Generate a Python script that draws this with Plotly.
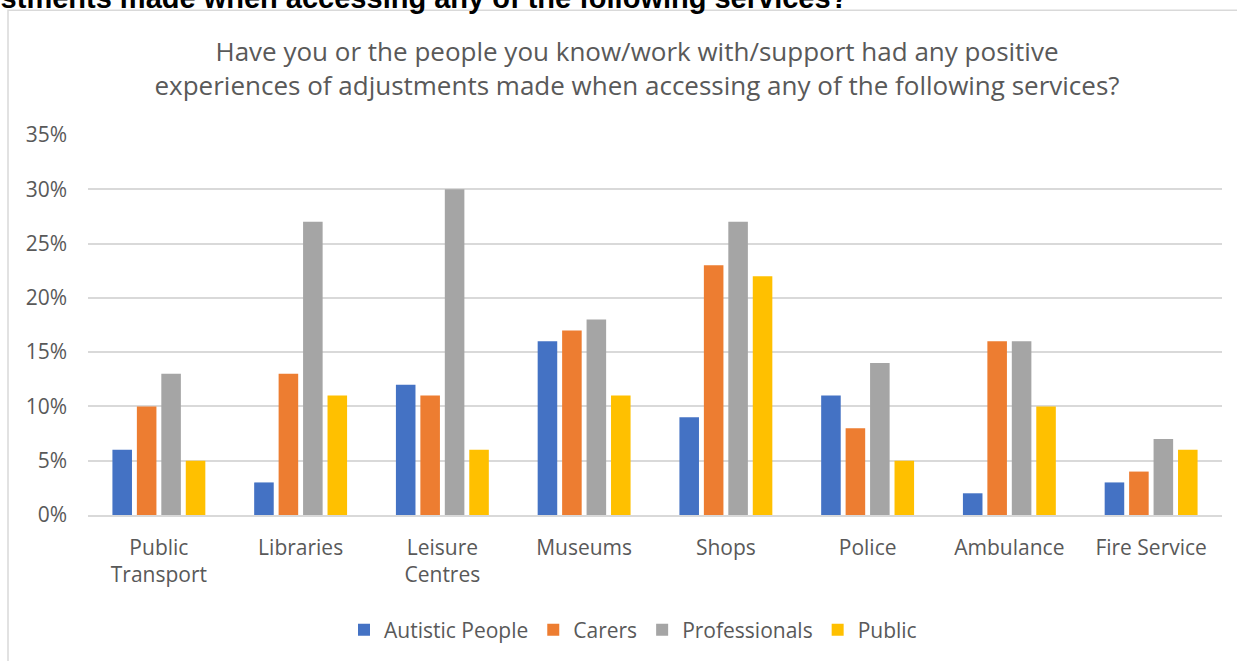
import plotly.graph_objects as go

categories = ["Public<br>Transport", "Libraries", "Leisure<br>Centres", "Museums", "Shops",
              "Police", "Ambulance", "Fire Service"]
autistic = [6, 3, 12, 16, 9, 11, 2, 3]
carers = [10, 13, 11, 17, 23, 8, 16, 4]
professionals = [13, 27, 30, 18, 27, 14, 16, 7]
public = [5, 11, 6, 11, 22, 5, 10, 6]
y_ticks = [0, 5, 10, 15, 20, 25, 30, 35]
y_tick_labels = ["0%", "5%", "10%", "15%", "20%", "25%", "30%", "35%"]

series = [("Autistic People", autistic, "#4472C4"),
          ("Carers", carers, "#ED7D31"),
          ("Professionals", professionals, "#A5A5A5"),
          ("Public", public, "#FFC000")]

FONT = "Open Sans"
GREY = "#595959"

fig = go.Figure()
for name, vals, col in series:
    fig.add_trace(go.Bar(x=categories, y=vals, name=name, marker_color=col,
                         marker_line_width=0))

W, H = 1237, 661
L, R, T, B = 88, 15, 135, 145
pw, ph = W - L - R, H - T - B

def px(x):
    return (x - L) / pw

def py(y):
    return (H - B - y) / ph

fig.update_layout(
    width=W, height=H,
    margin=dict(l=L, r=R, t=T, b=B),
    paper_bgcolor="white", plot_bgcolor="white",
    barmode="group", bargap=0.31, bargroupgap=0.2,
    font=dict(family=FONT, color=GREY, size=21),
    title=dict(text="Have you or the people you know/work with/support had any positive<br>experiences of adjustments made when accessing any of the following services?",
               xref="container", x=637 / W, xanchor="center",
               yref="container", y=1 - 61 / H, yanchor="middle",
               font=dict(family=FONT, size=26, color=GREY)),
    legend=dict(orientation="h", x=px(633), xanchor="center", y=py(630), yanchor="middle",
                font=dict(family=FONT, size=21, color=GREY), itemwidth=30,
                traceorder="normal"),
    showlegend=True,
)
fig.update_yaxes(range=[0, 35], tickvals=y_ticks, ticktext=y_tick_labels,
                 showgrid=True, gridcolor="#D9D9D9", gridwidth=1.5,
                 zeroline=False, showline=False, ticks="", ticklabelstandoff=20,
                 tickfont=dict(family=FONT, size=21, color=GREY))
fig.update_xaxes(showgrid=False, showline=True, linecolor="#D9D9D9", linewidth=1.5,
                 ticks="", ticklabelstandoff=13,
                 tickfont=dict(family=FONT, size=21, color=GREY))

# chart border
fig.add_shape(type="rect", xref="paper", yref="paper",
              x0=px(8), x1=px(1245), y0=py(670), y1=py(10),
              line=dict(color="#D9D9D9", width=1.5), layer="below")

# cropped document heading above chart
fig.add_annotation(xref="paper", yref="paper", x=px(850), y=py(16),
                   xanchor="right", yanchor="bottom", showarrow=False,
                   text="<b>adjustments made when accessing any of the following services?</b>",
                   font=dict(family="Liberation Sans", size=29, color="black"))

fig.write_html("out.html", config={"displayModeBar": False},
               post_script="document.body.style.margin='0';")
